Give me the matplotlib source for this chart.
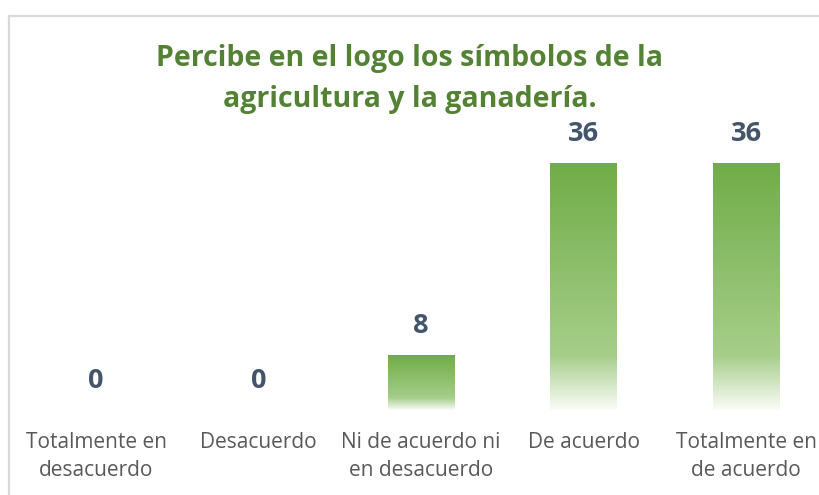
import matplotlib.pyplot as plt
import matplotlib as mpl
import numpy as np
from matplotlib.colors import LinearSegmentedColormap
from matplotlib.lines import Line2D

categories = ["Totalmente en\ndesacuerdo", "Desacuerdo", "Ni de acuerdo ni\nen desacuerdo",
              "De acuerdo", "Totalmente en\nde acuerdo"]
values = [0, 0, 8, 36, 36]
title = "Percibe en el logo los símbolos de la\nagricultura y la ganadería."

plt.rcParams['font.family'] = ['Open Sans', 'DejaVu Sans']

fig = plt.figure(figsize=(8.19, 4.95), dpi=100)
fig.patch.set_facecolor('white')

# chart border (cropped at right/bottom)
W, H = 819.0, 495.0
fig.add_artist(Line2D([8.5 / W, 8.5 / W], [0, 1 - 15.5 / H], color='#D9D9D9', lw=1.6,
                      transform=fig.transFigure))
fig.add_artist(Line2D([8.5 / W, 1], [1 - 15.5 / H, 1 - 15.5 / H], color='#D9D9D9', lw=1.6,
                      transform=fig.transFigure))

ymax = 40
unit = 247.0 / 36
base = 410.0
ax = fig.add_axes([14.75 / W, (H - base) / H, 812.5 / W, ymax * unit / H])
ax.set_xlim(-0.5, 4.5)
ax.set_ylim(0, ymax)
ax.axis('off')

cmap = LinearSegmentedColormap.from_list(
    'bar', [(0.0, '#70AD47'), (0.78, '#A6CE8A'), (1.0, '#FAFCF7')])
grad = np.linspace(0, 1, 256).reshape(-1, 1)
width = 0.41

x = np.arange(len(categories))
for xi, v in zip(x, values):
    if v > 0:
        ax.imshow(grad, cmap=cmap, aspect='auto', interpolation='bicubic',
                  extent=(xi - width / 2, xi + width / 2, 0, v), origin='upper')
    ax.text(xi, v + 29 / unit, str(v), ha='center', va='center', fontsize=19.5,
            fontweight='bold', color='#44546A')
    # labels hang from the same top line, one-liners sit on the first row
    ax.text(xi, -22 / unit, categories[xi], ha='center', va='top', fontsize=15,
            color='#595959', linespacing=1.45, clip_on=False)
ax.set_xlim(-0.5, 4.5)
ax.set_ylim(0, ymax)

fig.text(0.5, 1 - 79 / H, title, ha='center', va='center', fontsize=20.5,
         fontweight='bold', color='#548235', linespacing=1.52)

fig.savefig('out.png', dpi=100, facecolor='white')
